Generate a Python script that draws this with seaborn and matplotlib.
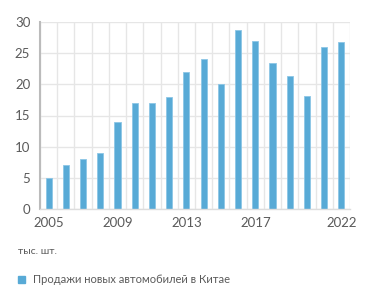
import matplotlib
matplotlib.use("Agg")
import matplotlib.pyplot as plt
import seaborn as sns
import pandas as pd
import numpy as np

years = [str(y) for y in range(2005, 2023)]
sales = [5, 7, 8, 9, 14, 17, 17, 18, 22, 24, 20, 28.7, 27, 23.5, 21.4, 18.2, 26, 26.8]
shown_labels = ["2005", "2009", "2013", "2017", "2022"]
y_ticks = [0, 5, 10, 15, 20, 25, 30]

sns.set_theme(style="white")
plt.rcParams['font.family'] = ['Lato', 'DejaVu Sans']

df = pd.DataFrame({"year": years, "sales": sales})

fig = plt.figure(figsize=(3.71, 3.02), dpi=100)
ax = fig.add_axes([40/371, 1-209/302, 310/371, 187/302])

sns.barplot(data=df, x="year", y="sales", color="#58aad6", width=0.36,
            saturation=1, ax=ax, edgecolor="#8cc6e6", linewidth=0.6)

ax.set_xlim(-0.5, len(years)-0.5)
ax.set_ylim(0, 30)
ax.set_yticks(y_ticks)
ax.set_yticklabels([str(t) for t in y_ticks])
major_pos = [years.index(l) for l in shown_labels]
ax.set_xticks(major_pos)
ax.set_xticklabels(shown_labels)
ax.set_xticks(np.arange(-0.5, len(years), 1.0), minor=True)
ax.grid(True, which="minor", axis="x", color="#e6e6e6", linewidth=1)
ax.grid(True, which="major", axis="y", color="#e6e6e6", linewidth=1)
ax.set_axisbelow(True)
ax.tick_params(axis="x", which="major", length=0, pad=6, labelsize=9.5, labelcolor="#5a5a5a")
ax.tick_params(axis="x", which="minor", length=4, color="#cccccc", width=1, direction="out")
ax.tick_params(axis="y", length=0, pad=7, labelsize=9.5, labelcolor="#5a5a5a")
ax.set_xlabel("")
ax.set_ylabel("")
for s in ["top", "right"]:
    ax.spines[s].set_visible(False)
ax.spines["left"].set_color("#bbbbbb")
ax.spines["left"].set_linewidth(1.5)
ax.spines["bottom"].set_color("#dddddd")
ax.spines["bottom"].set_linewidth(1)

fig.text(18/371, 1-251/302, "тыс. шт.", fontsize=7.5, color="#5a5a5a", va="center", ha="left")
fig.patches.append(matplotlib.patches.Rectangle((18/371, 1-283/302), 7/371, 7/302,
                   transform=fig.transFigure, color="#58aad6", figure=fig))
fig.text(33/371, 1-279.5/302, "Продажи новых автомобилей в Китае", fontsize=8,
         color="#5a5a5a", va="center", ha="left")

fig.savefig("out.png", dpi=100)
